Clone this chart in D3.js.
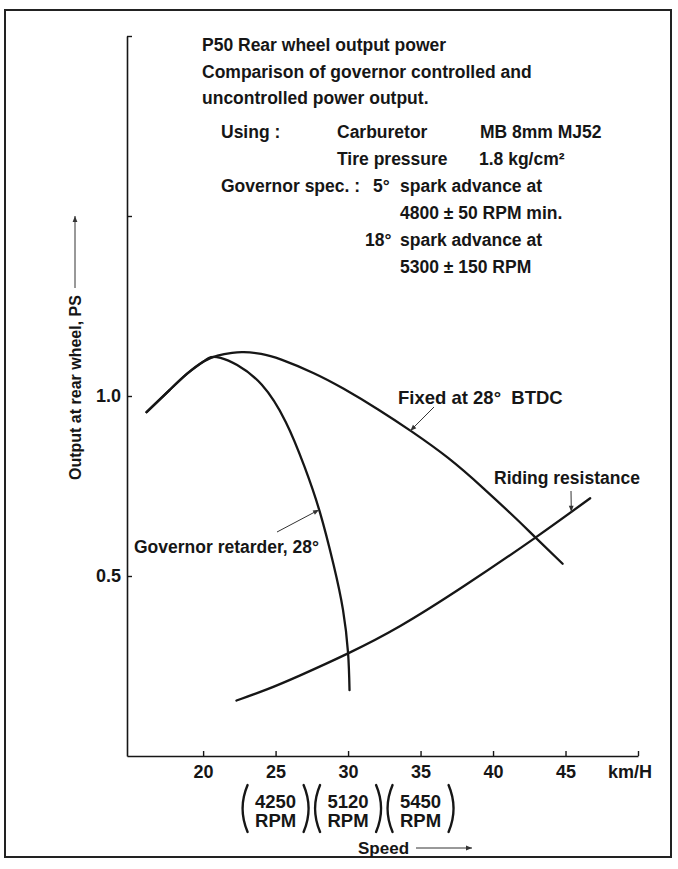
<!DOCTYPE html>
<html>
<head>
<meta charset="utf-8">
<script src="https://cdn.jsdelivr.net/npm/d3@7"></script>
<style>
  html, body { margin: 0; padding: 0; background: #fff; }
  svg { display: block; }
  text { font-family: "Liberation Sans", Arial, sans-serif; font-weight: bold; fill: #161616; }
</style>
</head>
<body>
<svg id="chart" width="678" height="869"></svg>
<script>
// Output with ignition fixed at 28° BTDC (speed km/h, power PS)
const fixedSpeed = [16.1, 17.7, 18.9, 20.0, 21.0, 22.0, 22.8, 24.0, 25.4, 27.6, 29.7, 32.1, 34.4, 36.9, 39.3, 41.6, 42.9, 44.8];
const fixedPower = [0.955, 1.017, 1.062, 1.095, 1.112, 1.120, 1.122, 1.117, 1.101, 1.064, 1.020, 0.962, 0.901, 0.828, 0.745, 0.659, 0.608, 0.534];

// Output with governor retarder, 28°
const governorSpeed = [16.1, 17.7, 18.9, 20.0, 20.55, 21.2, 22.35, 24.05, 25.7, 27.0, 28.05, 29.0, 29.65, 30.0, 30.1];
const governorPower = [0.955, 1.017, 1.062, 1.095, 1.108, 1.106, 1.086, 1.031, 0.928, 0.803, 0.678, 0.531, 0.406, 0.286, 0.183];

// Riding resistance
const ridingSpeed = [22.3, 24.4, 26.7, 30.0, 33.6, 38.0, 42.9, 46.7];
const ridingPower = [0.154, 0.185, 0.224, 0.285, 0.361, 0.472, 0.606, 0.716];

// Axis ticks
const xTickValues = [20, 25, 30, 35, 40, 45, 50];
const xTickLabels = ["20", "25", "30", "35", "40", "45", ""];
const yTickValues = [0.5, 1.0, 1.5, 2.0];
const yTickLabels = ["0.5", "1.0", "", ""];

// Engine speed at given road speeds
const rpmSpeeds = [25, 30, 35];
const rpmLabels = ["4250", "5120", "5450"];

const headerLines = [
  "P50 Rear wheel output power",
  "Comparison of governor controlled and",
  "uncontrolled power output."
];

const svg = d3.select("#chart");
const ink = "#161616";

const x = d3.scaleLinear().domain([14.75, 50]).range([127, 638]);
const y = d3.scaleLinear().domain([0, 2]).range([756, 36]);

const zip = (s, p) => s.map((v, i) => ({ s: v, p: p[i] }));
const fixed = zip(fixedSpeed, fixedPower);
const governor = zip(governorSpeed, governorPower);
const riding = zip(ridingSpeed, ridingPower);

function interp(series, s) {
  for (let i = 1; i < series.length; i++) {
    const a = series[i - 1], b = series[i];
    if (s >= a.s && s <= b.s) return a.p + (b.p - a.p) * (s - a.s) / (b.s - a.s);
  }
  return series[series.length - 1].p;
}

// page frame
svg.append("rect")
  .attr("x", 5).attr("y", 10).attr("width", 666).attr("height", 847)
  .attr("fill", "none").attr("stroke", "#222").attr("stroke-width", 2);

// arrowhead
svg.append("defs").append("marker")
  .attr("id", "arrow").attr("viewBox", "0 0 10 10")
  .attr("refX", 10).attr("refY", 5)
  .attr("markerWidth", 8).attr("markerHeight", 6)
  .attr("markerUnits", "userSpaceOnUse")
  .attr("orient", "auto")
  .append("path").attr("d", "M0,1L10,5L0,9Z").attr("fill", "#333");

// axes
const gx = svg.append("g")
  .attr("transform", `translate(0,${y(0)})`)
  .call(d3.axisBottom(x).tickValues(xTickValues).tickSize(-5).tickSizeOuter(0)
    .tickPadding(9).tickFormat((d, i) => xTickLabels[i]));
const gy = svg.append("g")
  .attr("transform", `translate(${x(14.75)},0)`)
  .call(d3.axisLeft(y).tickValues(yTickValues).tickSize(-5).tickSizeOuter(0)
    .tickPadding(6).tickFormat((d, i) => yTickLabels[i]));

[gx, gy].forEach(g => {
  g.attr("font-family", null).attr("font-size", null);
  g.select(".domain").attr("stroke", ink).attr("stroke-width", 1.6);
  g.selectAll(".tick line").attr("stroke", ink).attr("stroke-width", 1.4);
  g.selectAll(".tick text").attr("fill", ink).style("font-size", "18px");
});

svg.append("text").attr("x", 608).attr("y", 778).style("font-size", "18px").text("km/H");

// curves
const line = d3.line().x(d => x(d.s)).y(d => y(d.p)).curve(d3.curveNatural);
[fixed, governor, riding].forEach(series => {
  svg.append("path").datum(series).attr("d", line)
    .attr("fill", "none").attr("stroke", ink).attr("stroke-width", 2.3)
    .attr("stroke-linecap", "round").attr("stroke-linejoin", "round");
});

// curve labels with pointers
const labels = [
  { text: "Fixed at 28°\u00a0 BTDC", size: 18.5, tx: 398, ty: 404, series: fixed, at: 34.3, from: [434, 407] },
  { text: "Governor retarder, 28°", size: 17.5, tx: 134, ty: 553, series: governor, at: 28.0, from: [277, 532] },
  { text: "Riding resistance", size: 17.5, tx: 494, ty: 484, series: riding, at: 45.4, from: [571, 491] }
];
labels.forEach(l => {
  svg.append("text").attr("x", l.tx).attr("y", l.ty).style("font-size", l.size + "px").text(l.text);
  svg.append("line")
    .attr("x1", l.from[0]).attr("y1", l.from[1])
    .attr("x2", x(l.at)).attr("y2", y(interp(l.series, l.at)))
    .attr("stroke", "#333").attr("stroke-width", 1)
    .attr("marker-end", "url(#arrow)");
});

// header block
headerLines.forEach((t, i) => {
  svg.append("text").attr("x", 202).attr("y", 51 + i * 26.5).style("font-size", "17.5px").text(t);
});
const spec = [
  ["Using :", 221, 138], ["Carburetor", 337, 138], ["MB 8mm MJ52", 480, 138],
  ["Tire pressure", 337, 165], ["1.8 kg/cm²", 479, 165],
  ["Governor spec. :", 221, 192], ["5°", 373, 192], ["spark advance at", 400, 192],
  ["4800 ± 50 RPM min.", 400, 219],
  ["18°", 365, 246], ["spark advance at", 400, 246],
  ["5300 ± 150 RPM", 400, 273]
];
spec.forEach(([t, tx, ty]) => {
  svg.append("text").attr("x", tx).attr("y", ty).style("font-size", "17.5px").text(t);
});

// engine speed notes under the speed axis
rpmSpeeds.forEach((s, i) => {
  const cx = x(s);
  const g = svg.append("g");
  g.append("text").attr("x", cx).attr("y", 808).attr("text-anchor", "middle")
    .style("font-size", "18.5px").text(rpmLabels[i]);
  g.append("text").attr("x", cx).attr("y", 827).attr("text-anchor", "middle")
    .style("font-size", "18.5px").text("RPM");
  const top = 785, bot = 832, half = 28, bulge = 5;
  g.append("path")
    .attr("d", `M${cx - half},${top}Q${cx - half - 2 * bulge},${(top + bot) / 2} ${cx - half},${bot}`)
    .attr("fill", "none").attr("stroke", ink).attr("stroke-width", 2.4).attr("stroke-linecap", "round");
  g.append("path")
    .attr("d", `M${cx + half},${top}Q${cx + half + 2 * bulge},${(top + bot) / 2} ${cx + half},${bot}`)
    .attr("fill", "none").attr("stroke", ink).attr("stroke-width", 2.4).attr("stroke-linecap", "round");
});

// axis titles
svg.append("text").attr("x", 358).attr("y", 854).style("font-size", "17px").text("Speed");
svg.append("line").attr("x1", 416).attr("y1", 848).attr("x2", 472).attr("y2", 848)
  .attr("stroke", "#333").attr("stroke-width", 1).attr("marker-end", "url(#arrow)");

svg.append("text")
  .attr("transform", "translate(81,480) rotate(-90)")
  .style("font-size", "16px").text("Output at rear wheel, PS");
svg.append("line").attr("x1", 75).attr("y1", 288).attr("x2", 75).attr("y2", 216)
  .attr("stroke", "#333").attr("stroke-width", 1).attr("marker-end", "url(#arrow)");
</script>
</body>
</html>
